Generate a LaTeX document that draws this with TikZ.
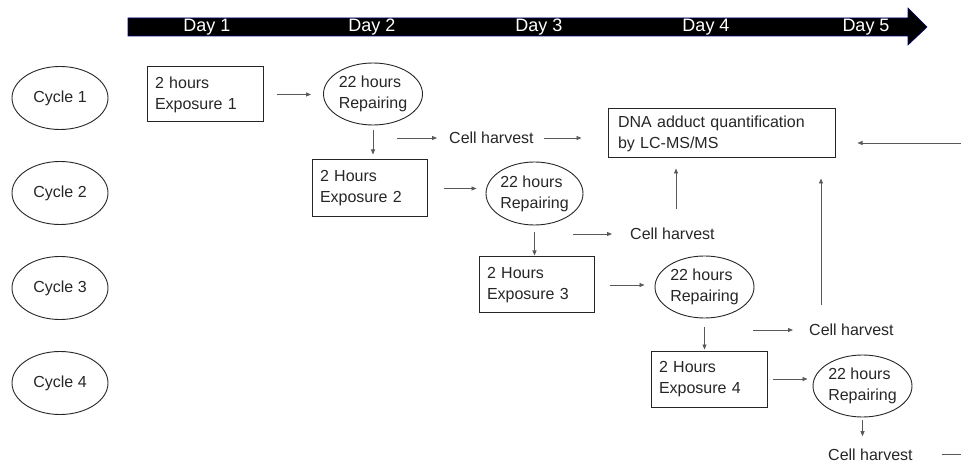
\documentclass[tikz,border=0pt]{standalone}
\usepackage{fontspec}
\setmainfont{Liberation Sans}
\usetikzlibrary{arrows.meta,shapes.geometric,calc}
\begin{document}
\begin{tikzpicture}[x=1pt,y=-1pt,
  every node/.style={font=\fontsize{16pt}{21pt}\selectfont, text=black!85},
  ln/.style={draw=black!65, line width=0.8pt},
  arr/.style={ln, -{Triangle[length=5pt,width=4pt]}},
  box/.style={draw=black!85, line width=1pt, rectangle, align=left, inner xsep=8pt, inner ysep=0pt},
  ell/.style={draw=black!85, line width=0.9pt, ellipse, inner sep=0pt, align=left},
  lbl/.style={inner sep=0pt},
  daylbl/.style={text=white, font=\fontsize{18pt}{20pt}\selectfont, inner sep=0pt}]
\useasboundingbox (0,0) rectangle (961,462);

% timeline arrow
\filldraw[fill=black, draw=blue!45!black, line width=0.6pt]
  (128,18) -- (908,18) -- (908,8) -- (927,27) -- (908,45) -- (908,36) -- (128,36) -- cycle;
\node[daylbl] (d1) at (207,27) {Day 1};
\node[daylbl] (d2) at (372,27) {Day 2};
\node[daylbl] (d3) at (539,27) {Day 3};
\node[daylbl] (d4) at (706,27) {Day 4};
\node[daylbl] (d5) at (866,27) {Day 5};

% cycles
\node[ell, align=center, minimum width=96, minimum height=63] (c1) at (60,98) {Cycle 1};
\node[ell, align=center, minimum width=96, minimum height=63] (c2) at (60,193) {Cycle 2};
\node[ell, align=center, minimum width=96, minimum height=63] (c3) at (60,288) {Cycle 3};
\node[ell, align=center, minimum width=96, minimum height=63] (c4) at (60,383) {Cycle 4};

% exposures
\node[box, text width=100, minimum height=55] (e1) at (205,94.5) {2 hours\\Exposure 1};
\node[box, text width=99, minimum height=57] (e2) at (369.5,188.5) {2 Hours\\Exposure 2};
\node[box, text width=99, minimum height=56] (e3) at (536.5,285) {2 Hours\\Exposure 3};
\node[box, text width=100, minimum height=56] (e4) at (709,379) {2 Hours\\Exposure 4};

% repairing
\node[ell, minimum width=99, minimum height=62] (r1) at (373,94) {22 hours\\Repairing};
\node[ell, minimum width=97, minimum height=63] (r2) at (534.5,193.5) {22 hours\\Repairing};
\node[ell, minimum width=99, minimum height=62] (r3) at (704.5,287) {22 hours\\Repairing};
\node[ell, minimum width=99, minimum height=62] (r4) at (862.5,386) {22 hours\\Repairing};

% DNA box
\node[box, text width=207, inner xsep=10pt, minimum height=49] (dna) at (721.5,133.5) {DNA adduct quantification\\by LC-MS/MS};

% cell harvests
\node[lbl, anchor=west] (h1) at (449,138) {Cell harvest};
\node[lbl, anchor=west] (h2) at (630,234) {Cell harvest};
\node[lbl, anchor=west] (h3) at (809,330) {Cell harvest};
\node[lbl, anchor=base west] (h4) at (828,460) {Cell harvest};

\coordinate (h2a) at ([xshift=46pt]h2.north west);
\coordinate (h3a) at ([xshift=12pt]h3.north west);
\coordinate (rin) at (961,143);
\coordinate (rout) at (961,455);

% connectors
\draw[arr, shorten <=13pt, shorten >=12pt] (e1.east) -- (e1.east -| r1.west);
\draw[arr, shorten <=5pt, shorten >=5pt] (r1.south) -- (r1.south |- e2.north);
\draw[arr] ([xshift=-52pt]h1.west) -- ([xshift=-12pt]h1.west);
\draw[arr, shorten <=10pt, shorten >=26pt] (h1.east) -- (h1.east -| dna.west);
\draw[arr, shorten >=22pt] (rin) -- (rin -| dna.east);
\draw[arr, shorten <=19pt, shorten >=10pt] (h2a) -- (h2a |- dna.south);

\draw[arr, shorten <=16pt, shorten >=9pt] (e2.east) -- (e2.east -| r2.west);
\draw[arr, shorten <=7pt, shorten >=1pt] (r2.south) -- (r2.south |- e3.north);
\draw[arr] ([xshift=-57pt]h2.west) -- ([xshift=-18pt]h2.west);

\draw[arr, shorten <=15pt, shorten >=10pt] (e3.east) -- (e3.east -| r3.west);
\draw[arr, shorten <=9pt, shorten >=1pt] (r3.south) -- (r3.south |- e4.north);
\draw[arr] ([xshift=-56pt]h3.west) -- ([xshift=-16pt]h3.west);
\draw[arr, shorten <=19pt, shorten >=20pt] (h3a) -- (h3a |- dna.south);

\draw[arr, shorten <=5pt, shorten >=5pt] (e4.east) -- (e4.east -| r4.west);
\draw[arr, shorten <=3pt, shorten >=12pt] (r4.south) -- (r4.south |- h4.north);
\draw[ln, shorten <=29pt] (h4.east) -- (h4.east -| rout);
\end{tikzpicture}
\end{document}
